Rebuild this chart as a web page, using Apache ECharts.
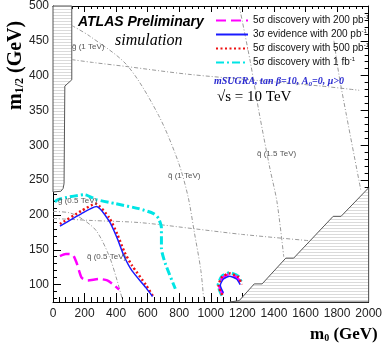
<!DOCTYPE html>
<html>
<head>
<meta charset="utf-8">
<script src="https://cdn.jsdelivr.net/npm/echarts@6/dist/echarts.min.js"></script>
<style>
  html, body { margin: 0; padding: 0; background: #fff; }
  #main { width: 385px; height: 352px; }
</style>
</head>
<body>
<div id="main"></div>
<script>
// axis ranges (GeV)
const xRange = [0, 2000]
const yRange = [75, 500]

// signal reach contours [m0, m1/2]
const disc200 = [[44, 141], [81, 144], [125, 143], [150, 131], [181, 110], [219, 106], [294, 108], [344, 106], [387, 99], [419, 93]]
const evid200 = [[44, 184], [181, 202], [275, 212], [356, 191], [406, 167], [450, 141], [500, 120], [587, 96], [631, 83]]
const disc500 = [[44, 187], [181, 206], [270, 216], [356, 196], [408, 172], [452, 147], [502, 127], [590, 99], [640, 81]]
const disc1fb = [[12, 219], [31, 222], [106, 226], [200, 229], [275, 222], [400, 216], [544, 209], [637, 202], [669, 195], [687, 181], [687, 152], [712, 130], [775, 94]]

// small islands near m0 ~ 1100
const disc200Island = [[1075, 86], [1052, 99], [1075, 110], [1119, 115], [1169, 110], [1194, 100]]
const evid200Island = [[1080, 88], [1060, 99], [1080, 108], [1119, 112], [1163, 108], [1186, 100]]
const disc500Island = [[1072, 85], [1049, 99], [1072, 111], [1119, 116], [1172, 111], [1197, 100]]
const disc1fbIsland = [[1070, 84], [1046, 99], [1070, 112], [1119, 117], [1175, 112], [1200, 100]]

// gluino / squark mass contours
const gluino05 = [[0, 195], [250, 192], [550, 189], [900, 180], [1200, 172], [1625, 163]]
const gluino1 = [[119, 423], [250, 419], [469, 413], [856, 402], [1300, 393], [1700, 385], [1940, 379]]
const squark05 = [[0, 205], [106, 203], [187, 194], [275, 177], [356, 141], [406, 106], [444, 75]]
const squark1 = [[119, 472], [231, 457], [469, 415], [669, 343], [794, 276], [856, 226], [894, 177], [937, 120], [956, 75]]
const squark15 = [[1180, 500], [1250, 420], [1306, 347], [1375, 266], [1419, 219], [1462, 140]]
const squark2 = [[1780, 450], [1812, 401], [1856, 347], [1950, 236]]

// excluded regions
const leftRegion = [[0, 500], [119, 500], [119, 394], [75, 385], [70, 245], [64, 238], [50, 234], [0, 233]]
const rightRegion = [[1120, 75], [1180, 77], [1275, 101], [1325, 101], [1475, 138], [1525, 138], [1775, 198], [1825, 198], [2000, 239], [2000, 75]]

const legendNames = ['5σ discovery with 200 pb-1', '3σ evidence with 200 pb-1', '5σ discovery with 500 pb-1', '5σ discovery with 1 fb-1']

const hatchCanvas = document.createElement('canvas')
hatchCanvas.width = 4
hatchCanvas.height = 3
const hctx = hatchCanvas.getContext('2d')
hctx.fillStyle = '#ffffff'
hctx.fillRect(0, 0, 4, 3)
hctx.fillStyle = '#dadada'
hctx.fillRect(0, 0, 4, 1)
const hatch = { image: hatchCanvas, repeat: 'repeat' }

const chart = echarts.init(document.getElementById('main'))

const regionSeries = (pts) => ({
    type: 'custom',
    silent: true,
    z: 1,
    data: [[0, 0]],
    renderItem: (params, api) => ({
        type: 'polygon',
        shape: { points: pts.map(p => api.coord(p)) },
        style: { fill: hatch, stroke: '#555', lineWidth: 1 }
    })
})

const massLine = (data) => ({
    type: 'line',
    data,
    smooth: 0.3,
    symbol: 'none',
    silent: true,
    z: 2,
    lineStyle: { color: '#9a9a9a', width: 1, type: [4, 2, 1, 2] }
})

const styles = [
    { color: '#ff00ff', width: 2.5, type: [10, 5] },
    { color: '#1a1aff', width: 1.5, type: 'solid' },
    { color: '#ee1111', width: 2.5, type: [2, 2.5] },
    { color: '#00e5e5', width: 3, type: [8, 3, 2, 3] }
]

const sigLine = (name, data, idx, z) => ({
    name,
    type: 'line',
    data,
    smooth: 0.2,
    symbol: 'none',
    silent: true,
    z,
    itemStyle: { color: styles[idx].color },
    lineStyle: styles[idx]
})

const axisCommon = {
    type: 'value',
    splitLine: { show: false },
    axisLine: { show: true, onZero: false, lineStyle: { color: '#000', width: 1 } },
    axisTick: { show: true, inside: true, length: 9, lineStyle: { color: '#000' } },
    minorTick: { show: true, splitNumber: 5, length: 5, lineStyle: { color: '#000' } },
    axisLabel: { color: '#222', fontSize: 12, fontFamily: 'Liberation Sans, Arial', formatter: v => String(v) }
}

const option = {
    animation: false,
    grid: { left: 53, top: 2, width: 320, height: 300 },
    xAxis: [
        { ...axisCommon, min: xRange[0], max: xRange[1], interval: 200, position: 'bottom',
          axisLabel: { ...axisCommon.axisLabel, margin: 6 } },
        { ...axisCommon, min: xRange[0], max: xRange[1], interval: 200, position: 'top',
          axisTick: { ...axisCommon.axisTick, length: 6 },
          minorTick: { ...axisCommon.minorTick, length: 3 },
          axisLabel: { show: false } }
    ],
    yAxis: [
        { ...axisCommon, min: yRange[0], max: yRange[1], splitNumber: 8, position: 'left',
          minorTick: { ...axisCommon.minorTick, length: 4 },
          axisTick: { ...axisCommon.axisTick, length: 8 },
          axisLabel: { ...axisCommon.axisLabel, margin: 4, showMinLabel: false } },
        { ...axisCommon, min: yRange[0], max: yRange[1], splitNumber: 8, position: 'right',
          minorTick: { ...axisCommon.minorTick, length: 4 },
          axisTick: { ...axisCommon.axisTick, length: 8 },
          axisLabel: { show: false } }
    ],
    legend: {
        data: legendNames,
        orient: 'vertical',
        left: 210,
        top: 9,
        itemWidth: 32,
        itemHeight: 10,
        itemGap: 1,
        selectedMode: false,
        itemStyle: { opacity: 0 },
        formatter: name => name.replace(/ (pb|fb)-1$/, ' $1{sup|-1}'),
        textStyle: {
            fontFamily: 'Liberation Sans, Arial',
            fontSize: 10,
            color: '#111',
            lineHeight: 13,
            rich: { sup: { fontSize: 6, verticalAlign: 'top', lineHeight: 13, color: '#111' } }
        }
    },
    graphic: [
        { type: 'text', left: 78, top: 15, z: 10,
          style: { text: 'ATLAS Preliminary', font: 'italic bold 14px Liberation Sans, Arial', fill: '#000' } },
        { type: 'text', left: 115, top: 33, z: 10,
          style: { text: 'simulation', font: 'italic 16px Liberation Serif, serif', fill: '#000' } },
        { type: 'text', left: 214, top: 76, z: 10,
          style: {
              text: '{t|mSUGRA, tan }{n|β=10, A}{s|0}{t|=0, μ>0}',
              rich: {
                  t: { font: 'italic bold 10px Liberation Serif, serif', fill: '#2a2ad0' },
                  n: { font: 'italic bold 10px Liberation Serif, serif', fill: '#2a2ad0' },
                  s: { font: 'italic bold 7px Liberation Serif, serif', fill: '#2a2ad0', verticalAlign: 'bottom', padding: [6, 0, 0, 0] }
              }
          } },
        { type: 'text', left: 217, top: 90, z: 10,
          style: { text: '√s = 10 TeV', font: '15px Liberation Serif, serif', fill: '#000' } },
        { type: 'text', left: 72, top: 43, z: 10,
          style: { text: 'g̃ (1 TeV)', font: '8px Liberation Sans, sans-serif', fill: '#555' } },
        { type: 'text', left: 168, top: 172, z: 10,
          style: { text: 'q̃ (1 TeV)', font: '8px Liberation Sans, sans-serif', fill: '#555' } },
        { type: 'text', left: 257, top: 150, z: 10,
          style: { text: 'q̃ (1.5 TeV)', font: '8px Liberation Sans, sans-serif', fill: '#555' } },
        { type: 'text', left: 58, top: 197, z: 10,
          style: { text: 'g̃ (0.5 TeV)', font: '8px Liberation Sans, sans-serif', fill: '#555' } },
        { type: 'text', left: 87, top: 253, z: 10,
          style: { text: 'q̃ (0.5 TeV)', font: '8px Liberation Sans, sans-serif', fill: '#555' } },
        { type: 'text', left: 310, top: 326, z: 10,
          style: {
              text: '{m|m}{s|0}{m| (GeV)}',
              rich: {
                  m: { font: 'bold 17px Liberation Serif, serif', fill: '#000' },
                  s: { font: 'bold 10px Liberation Serif, serif', fill: '#000', verticalAlign: 'bottom', padding: [8, 0, 0, 0] }
              }
          } },
        { type: 'text', x: 5, y: 110, rotation: Math.PI / 2, z: 10,
          style: {
              text: '{m|m}{s|1/2}{m| (GeV)}',
              rich: {
                  m: { font: 'bold 20px Liberation Serif, serif', fill: '#000' },
                  s: { font: 'bold 12px Liberation Serif, serif', fill: '#000', verticalAlign: 'bottom', padding: [9, 0, 0, 0] }
              }
          } }
    ],
    series: [
        regionSeries(leftRegion),
        regionSeries(rightRegion),
        massLine(gluino05),
        massLine(gluino1),
        massLine(squark05),
        massLine(squark1),
        massLine(squark15),
        massLine(squark2),
        sigLine(legendNames[3], disc1fb, 3, 3),
        sigLine(legendNames[0], disc200, 0, 4),
        sigLine(legendNames[2], disc500, 2, 5),
        sigLine(legendNames[1], evid200, 1, 6),
        sigLine('isl1fb', disc1fbIsland, 3, 3),
        sigLine('isl500', disc500Island, 2, 5),
        sigLine('isl200', disc200Island, 0, 4),
        sigLine('islev', evid200Island, 1, 6)
    ]
}

chart.setOption(option)
</script>
</body>
</html>
